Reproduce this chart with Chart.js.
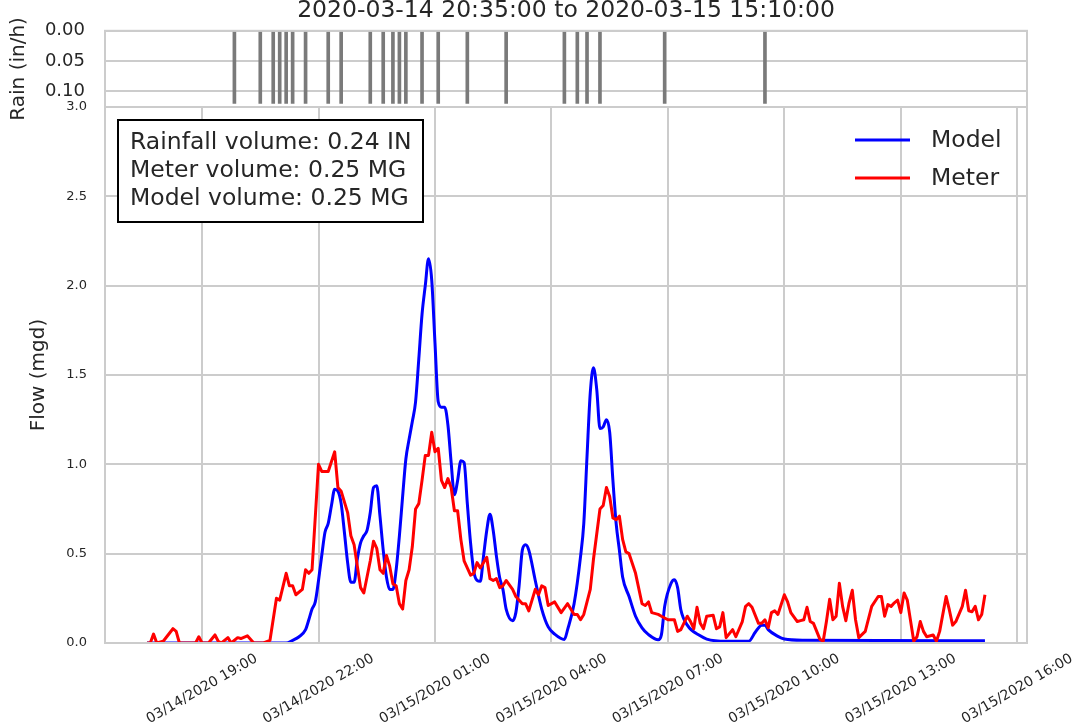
<!DOCTYPE html>
<html>
<head>
<meta charset="utf-8">
<script src="https://cdn.jsdelivr.net/npm/chart.js@4.4.0/dist/chart.umd.min.js"></script>
<style>
  html, body { margin: 0; padding: 0; background: #fff; }
  #wrap { position: relative; width: 1078px; height: 728px; overflow: hidden; }
  canvas { position: absolute; left: 0; top: 0; }
</style>
</head>
<body>
<div id="wrap">
  <canvas id="rainChart" width="1078" height="728"></canvas>
  <canvas id="flowChart" width="1078" height="728"></canvas>
</div>
<script>
const chartTitle = '2020-03-14 20:35:00 to 2020-03-15 15:10:00'
const summaryLines = ['Rainfall volume: 0.24 IN', 'Meter volume: 0.25 MG', 'Model volume: 0.25 MG']

// hours counted from 03/14 00:00 (times before 16:00 belong to 03/15)
const timeTicks = [19, 22, 25, 28, 31, 34, 37, 40]
const timeTickLabels = ['03/14/2020 19:00', '03/14/2020 22:00', '03/15/2020 01:00', '03/15/2020 04:00',
  '03/15/2020 07:00', '03/15/2020 10:00', '03/15/2020 13:00', '03/15/2020 16:00']
const flowTicks = [0, 0.5, 1.0, 1.5, 2.0, 2.5, 3.0]
const rainTicks = [0, 0.05, 0.10]

const rainTimes = ['19:50', '20:30', '20:50', '21:00', '21:10', '21:20', '21:40', '22:15', '22:35', '23:20',
  '23:40', '23:55', '00:05', '00:15', '00:40', '01:05', '01:50', '02:50', '04:20', '04:40', '04:55', '05:15',
  '06:55', '09:30']
const rainIntensity = [0.12, 0.12, 0.12, 0.12, 0.12, 0.12, 0.12, 0.12, 0.12, 0.12, 0.12, 0.12, 0.12, 0.12,
  0.12, 0.12, 0.12, 0.12, 0.12, 0.12, 0.12, 0.12, 0.12, 0.12]

const meterTimes = ['17:35', '17:40', '17:45', '17:50', '18:00', '18:15', '18:20', '18:25', '18:50', '18:55',
  '19:00', '19:10', '19:20', '19:25', '19:30', '19:40', '19:45', '19:55', '20:00', '20:10', '20:20', '20:35',
  '20:45', '20:55', '21:00', '21:10', '21:15', '21:20', '21:25', '21:35', '21:40', '21:45', '21:50', '22:00',
  '22:05', '22:15', '22:25', '22:30', '22:35', '22:45', '22:50', '22:55', '23:05', '23:10', '23:20', '23:25',
  '23:30', '23:35', '23:40', '23:45', '23:50', '23:55', '00:00', '00:05', '00:10', '00:15', '00:20', '00:25',
  '00:30', '00:35', '00:40', '00:45', '00:50', '00:55', '01:00', '01:05', '01:10', '01:15', '01:20', '01:25',
  '01:30', '01:35', '01:40', '01:45', '01:55', '02:00', '02:05', '02:10', '02:20', '02:25', '02:30', '02:35',
  '02:40', '02:45', '02:50', '03:00', '03:05', '03:15', '03:20', '03:25', '03:35', '03:40', '03:45', '03:50',
  '03:55', '04:05', '04:15', '04:25', '04:35', '04:40', '04:45', '04:50', '05:00', '05:05', '05:15', '05:20',
  '05:25', '05:30', '05:35', '05:40', '05:45', '05:50', '05:55', '06:00', '06:10', '06:20', '06:25', '06:30',
  '06:35', '06:45', '06:50', '07:00', '07:10', '07:15', '07:20', '07:30', '07:35', '07:40', '07:45', '07:50',
  '07:55', '08:00', '08:10', '08:15', '08:20', '08:25', '08:30', '08:40', '08:45', '08:55', '09:00', '09:05',
  '09:10', '09:20', '09:25', '09:30', '09:35', '09:40', '09:45', '09:50', '10:00', '10:05', '10:10', '10:20',
  '10:25', '10:30', '10:35', '10:40', '10:45', '10:55', '11:00', '11:05', '11:10', '11:15', '11:20', '11:25',
  '11:30', '11:35', '11:40', '11:45', '11:50', '11:55', '12:05', '12:15', '12:25', '12:30', '12:35', '12:40',
  '12:45', '12:50', '12:55', '13:00', '13:05', '13:10', '13:20', '13:25', '13:30', '13:35', '13:40', '13:50',
  '13:55', '14:00', '14:10', '14:15', '14:20', '14:25', '14:35', '14:40', '14:45', '14:50', '14:55', '15:00',
  '15:05', '15:10']
const meterFlow = [0, 0, 0.05, 0, 0.01, 0.08, 0.065, 0, 0, 0.035,
  0, 0, 0.045, 0.01, 0, 0.03, 0, 0.03, 0.025, 0.04, 0, 0,
  0.015, 0.25, 0.24, 0.39, 0.32, 0.32, 0.27, 0.30, 0.41, 0.39, 0.41, 1.0,
  0.96, 0.96, 1.07, 0.87, 0.85, 0.73, 0.60, 0.55, 0.31, 0.28, 0.46, 0.57,
  0.53, 0.41, 0.39, 0.49, 0.43, 0.33, 0.32, 0.22, 0.19, 0.35, 0.41, 0.54,
  0.75, 0.78, 0.91, 1.05, 1.05, 1.18, 1.07, 1.09, 0.91, 0.87, 0.92, 0.87,
  0.74, 0.74, 0.58, 0.46, 0.38, 0.39, 0.45, 0.42, 0.48, 0.36, 0.35, 0.36,
  0.31, 0.32, 0.35, 0.30, 0.26, 0.22, 0.22, 0.18, 0.30, 0.27, 0.32, 0.31,
  0.21, 0.23, 0.17, 0.22, 0.16, 0.16, 0.13, 0.16, 0.30, 0.47, 0.75, 0.77,
  0.87, 0.82, 0.70, 0.69, 0.71, 0.58, 0.51, 0.50, 0.39, 0.22, 0.21, 0.23,
  0.17, 0.16, 0.15, 0.13, 0.13, 0.065, 0.075, 0.15, 0.12, 0.08, 0.20, 0.11,
  0.08, 0.15, 0.155, 0.08, 0.09, 0.17, 0.03, 0.075, 0.035, 0.12, 0.205, 0.22,
  0.20, 0.11, 0.11, 0.13, 0.085, 0.17, 0.18, 0.16, 0.27, 0.23, 0.17, 0.12,
  0.125, 0.13, 0.20, 0.12, 0.11, 0.02, 0.01, 0.12, 0.245, 0.13, 0.15, 0.335,
  0.205, 0.125, 0.225, 0.295, 0.13, 0.03, 0.065, 0.205, 0.26, 0.26, 0.15, 0.215,
  0.205, 0.225, 0.24, 0.17, 0.28, 0.24, 0.01, 0.035, 0.12, 0.065, 0.035, 0.045,
  0.01, 0.065, 0.26, 0.185, 0.10, 0.12, 0.205, 0.295, 0.18, 0.175, 0.205, 0.13,
  0.16, 0.27]

const modelTimes = ['17:35', '21:10', '21:20', '21:30', '21:40', '21:45', '21:50', '21:55', '22:00', '22:05',
  '22:10', '22:15', '22:20', '22:25', '22:30', '22:35', '22:40', '22:45', '22:50', '22:55', '23:00', '23:05',
  '23:10', '23:15', '23:20', '23:25', '23:30', '23:35', '23:40', '23:45', '23:50', '23:55', '00:00', '00:05',
  '00:10', '00:15', '00:20', '00:25', '00:30', '00:35', '00:40', '00:45', '00:50', '00:55', '01:00', '01:05',
  '01:10', '01:15', '01:20', '01:25', '01:30', '01:35', '01:40', '01:45', '01:50', '01:55', '02:00', '02:05',
  '02:10', '02:15', '02:20', '02:25', '02:30', '02:35', '02:40', '02:45', '02:50', '03:00', '03:05', '03:10',
  '03:15', '03:20', '03:25', '03:35', '03:45', '03:55', '04:05', '04:20', '04:25', '04:35', '04:45', '04:50',
  '04:55', '05:00', '05:05', '05:10', '05:15', '05:20', '05:25', '05:30', '05:35', '05:40', '05:45', '05:50',
  '06:00', '06:10', '06:20', '06:30', '06:45', '06:50', '06:55', '07:05', '07:10', '07:15', '07:20', '07:30',
  '07:50', '08:00', '08:30', '09:05', '09:15', '09:25', '09:30', '09:35', '09:50', '10:00', '10:30', '15:10']
const modelFlow = [0, 0, 0.015, 0.035, 0.075, 0.13, 0.19, 0.23, 0.35, 0.49,
  0.62, 0.67, 0.77, 0.86, 0.85, 0.78, 0.62, 0.45, 0.34, 0.34, 0.47, 0.56,
  0.60, 0.63, 0.73, 0.87, 0.88, 0.71, 0.52, 0.37, 0.30, 0.30, 0.41, 0.60,
  0.82, 1.03, 1.14, 1.24, 1.35, 1.59, 1.84, 2.0, 2.15, 2.03, 1.68, 1.35,
  1.32, 1.32, 1.22, 1.01, 0.83, 0.91, 1.02, 1.01, 0.78, 0.56, 0.40, 0.35,
  0.345, 0.485, 0.63, 0.72, 0.63, 0.485, 0.365, 0.30, 0.19, 0.125, 0.17, 0.32,
  0.52, 0.55, 0.52, 0.35, 0.19, 0.09, 0.05, 0.02, 0.075, 0.22, 0.485, 0.67,
  1.045, 1.40, 1.54, 1.42, 1.20, 1.21, 1.25, 1.18, 0.91, 0.67, 0.52, 0.37,
  0.26, 0.15, 0.085, 0.047, 0.018, 0.047, 0.205, 0.335, 0.354, 0.31, 0.186, 0.10,
  0.04, 0.022, 0.01, 0.01, 0.06, 0.10, 0.10, 0.075, 0.037, 0.022, 0.015, 0.012]

const FONT = '"DejaVu Sans", sans-serif'
const TEXT = '#262626'
const GRID = '#cccccc'
Chart.defaults.font.family = FONT
Chart.defaults.color = TEXT

let toHours = t => {
  const [h, m] = t.split(':').map(Number)
  const v = h + m / 60
  return v < 16 ? v + 24 : v
}
let toPoints = (times, values) => times.map((t, i) => ({ x: toHours(t), y: values[i] }))

const xMin = 16.5
const xMax = 40.25

// spines all round, drawn over the data like matplotlib
const framePlugin = {
  id: 'frame',
  afterDatasetsDraw(chart) {
    const { ctx, chartArea: a } = chart
    ctx.save()
    ctx.strokeStyle = GRID
    ctx.lineWidth = 2
    ctx.strokeRect(a.left, a.top, a.right - a.left, a.bottom - a.top)
    ctx.restore()
  }
}

const titlePlugin = {
  id: 'topTitle',
  afterDraw(chart) {
    const { ctx, chartArea: a } = chart
    ctx.save()
    ctx.font = '23.5px ' + FONT
    ctx.fillStyle = TEXT
    ctx.textAlign = 'center'
    ctx.textBaseline = 'alphabetic'
    ctx.fillText(chartTitle, (a.left + a.right) / 2, 17)
    ctx.restore()
  }
}

// rotated date labels, centred on their tick like plt.xticks(rotation=30)
const xLabelPlugin = {
  id: 'xLabels',
  afterDraw(chart) {
    const { ctx } = chart
    const scale = chart.scales.x
    ctx.save()
    ctx.font = '14px ' + FONT
    ctx.fillStyle = TEXT
    ctx.textAlign = 'center'
    ctx.textBaseline = 'middle'
    timeTicks.forEach((v, i) => {
      ctx.save()
      ctx.translate(scale.getPixelForValue(v), 689)
      ctx.rotate(-30 * Math.PI / 180)
      ctx.fillText(timeTickLabels[i], 0, 0)
      ctx.restore()
    })
    ctx.restore()
  }
}

const legendPlugin = {
  id: 'lineLegend',
  afterDraw(chart) {
    const { ctx } = chart
    ctx.save()
    ctx.font = '23.5px ' + FONT
    ctx.textBaseline = 'middle'
    chart.data.datasets.forEach((ds, i) => {
      const y = 140 + i * 38
      ctx.strokeStyle = ds.borderColor
      ctx.lineWidth = 3
      ctx.beginPath()
      ctx.moveTo(855, y)
      ctx.lineTo(910, y)
      ctx.stroke()
      ctx.fillStyle = TEXT
      ctx.fillText(ds.label, 931, y + 1)
    })
    ctx.restore()
  }
}

const summaryPlugin = {
  id: 'summaryBox',
  afterDraw(chart) {
    const { ctx } = chart
    ctx.save()
    ctx.fillStyle = '#ffffff'
    ctx.fillRect(118, 120, 305, 102)
    ctx.strokeStyle = '#000000'
    ctx.lineWidth = 2
    ctx.strokeRect(118, 120, 305, 102)
    ctx.font = '23.5px ' + FONT
    ctx.fillStyle = TEXT
    ctx.textBaseline = 'alphabetic'
    summaryLines.forEach((line, i) => ctx.fillText(line, 130, 149 + i * 28))
    ctx.restore()
  }
}

new Chart(document.getElementById('rainChart'), {
  type: 'bar',
  data: {
    datasets: [{
      label: 'Rain',
      data: toPoints(rainTimes, rainIntensity),
      backgroundColor: '#7a7a7a',
      borderWidth: 0,
      barThickness: 3,
      grouped: false
    }]
  },
  options: {
    responsive: false,
    animation: false,
    layout: { padding: { top: 30, bottom: 621, left: 0, right: 51 } },
    plugins: { legend: { display: false }, tooltip: { enabled: false } },
    scales: {
      x: { type: 'linear', display: false, min: xMin, max: xMax, offset: false },
      y: {
        reverse: true,
        min: 0,
        max: 0.126,
        grid: { color: GRID, lineWidth: 2, drawTicks: false },
        border: { display: false },
        ticks: { font: { size: 18 }, color: TEXT, padding: 20, callback: v => v.toFixed(2) },
        afterBuildTicks: s => { s.ticks = rainTicks.map(v => ({ value: v })) },
        afterFit: s => { s.width = 105 },
        title: { display: true, text: 'Rain (in/h)', font: { size: 20 }, color: TEXT, padding: { top: 7, bottom: 0 } }
      }
    }
  },
  plugins: [framePlugin, titlePlugin]
})

new Chart(document.getElementById('flowChart'), {
  type: 'line',
  data: {
    datasets: [
      {
        label: 'Model',
        data: toPoints(modelTimes, modelFlow),
        borderColor: '#0000ff',
        backgroundColor: '#0000ff',
        borderWidth: 3,
        pointRadius: 0,
        cubicInterpolationMode: 'monotone',
        borderJoinStyle: 'round',
        order: 1
      },
      {
        label: 'Meter',
        data: toPoints(meterTimes, meterFlow),
        borderColor: '#ff0000',
        backgroundColor: '#ff0000',
        borderWidth: 3,
        pointRadius: 0,
        tension: 0,
        borderJoinStyle: 'round',
        order: 0
      }
    ]
  },
  options: {
    responsive: false,
    animation: false,
    layout: { padding: { top: 107, bottom: 85, left: 0, right: 51 } },
    plugins: { legend: { display: false }, tooltip: { enabled: false } },
    scales: {
      x: {
        type: 'linear',
        min: xMin,
        max: xMax,
        grid: { color: GRID, lineWidth: 2, drawTicks: false },
        border: { display: false },
        ticks: { display: false },
        afterBuildTicks: s => { s.ticks = timeTicks.map(v => ({ value: v })) },
        afterFit: s => { s.height = 0 }
      },
      y: {
        min: 0,
        max: 3,
        grid: { color: GRID, lineWidth: 2, drawTicks: false },
        border: { display: false },
        ticks: { font: { size: 13 }, color: TEXT, padding: 18, callback: v => v.toFixed(1) },
        afterBuildTicks: s => { s.ticks = flowTicks.map(v => ({ value: v })) },
        afterFit: s => { s.width = 105 },
        title: { display: true, text: 'Flow (mgd)', font: { size: 20 }, color: TEXT, padding: { top: 27, bottom: 0 } }
      }
    }
  },
  plugins: [framePlugin, xLabelPlugin, summaryPlugin, legendPlugin]
})
</script>
</body>
</html>
